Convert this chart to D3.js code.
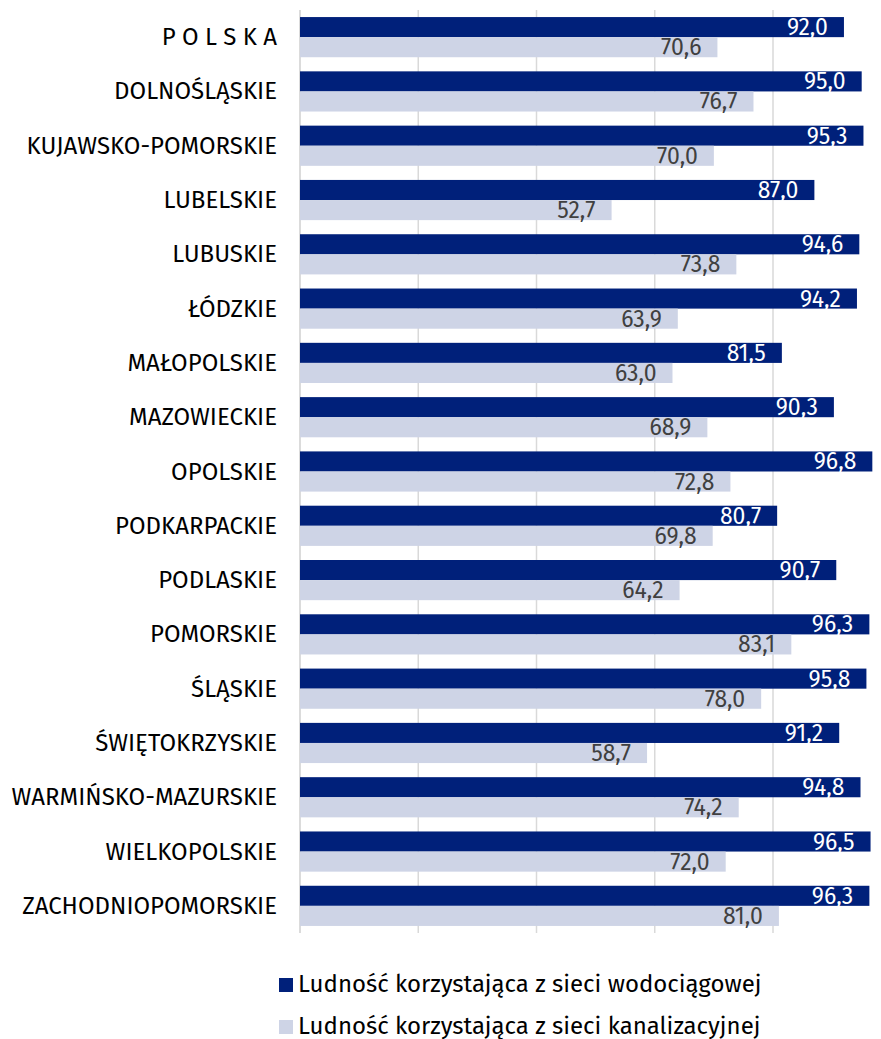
<!DOCTYPE html>
<html>
<head>
<meta charset="utf-8">
<script src="https://cdn.jsdelivr.net/npm/d3@7"></script>
<style>
  body { margin: 0; background: #fff; }
  svg { font-family: "Fira Sans", Roboto, "Open Sans", sans-serif; }
</style>
</head>
<body>
<div id="chart"></div>
<script>
const regions = ['P O L S K A', 'DOLNOŚLĄSKIE', 'KUJAWSKO-POMORSKIE', 'LUBELSKIE', 'LUBUSKIE',
  'ŁÓDZKIE', 'MAŁOPOLSKIE', 'MAZOWIECKIE', 'OPOLSKIE', 'PODKARPACKIE', 'PODLASKIE',
  'POMORSKIE', 'ŚLĄSKIE', 'ŚWIĘTOKRZYSKIE', 'WARMIŃSKO-MAZURSKIE', 'WIELKOPOLSKIE',
  'ZACHODNIOPOMORSKIE'];
const water = [92.0, 95.0, 95.3, 87.0, 94.6, 94.2, 81.5, 90.3, 96.8, 80.7, 90.7, 96.3, 95.8, 91.2, 94.8, 96.5, 96.3];
const sewer = [70.6, 76.7, 70.0, 52.7, 73.8, 63.9, 63.0, 68.9, 72.8, 69.8, 64.2, 83.1, 78.0, 58.7, 74.2, 72.0, 81.0];
const seriesNames = ['Ludność korzystająca z sieci wodociągowej', 'Ludność korzystająca z sieci kanalizacyjnej'];
const xTicks = [0, 20, 40, 60, 80, 100];

const colors = ['#00207a', '#ced4e6'];
const labelColors = ['#ffffff', '#404040'];

const W = 881, H = 1039;
const margin = { top: 10, left: 300, bottom: 106 };

const svg = d3.select('#chart').append('svg')
  .attr('width', W).attr('height', H);

const x = d3.scaleLinear().domain([0, 100]).range([margin.left, 891.25]);
const y = d3.scaleBand().domain(regions).range([margin.top, H - margin.bottom]).paddingInner(0.26).paddingOuter(0.13);
const sub = d3.scaleBand().domain([0, 1]).range([0, y.bandwidth()]);

// gridlines
svg.append('g')
  .selectAll('line')
  .data(xTicks)
  .join('line')
  .attr('x1', d => x(d)).attr('x2', d => x(d))
  .attr('y1', margin.top).attr('y2', H - margin.bottom)
  .attr('stroke', d => d === 0 ? '#cfcfcf' : '#d9d9d9')
  .attr('stroke-width', 1.5);

const rows = regions.map((r, i) => ({ region: r, vals: [water[i], sewer[i]] }));

const g = svg.append('g').selectAll('g')
  .data(rows)
  .join('g')
  .attr('transform', d => `translate(0,${y(d.region)})`);

g.selectAll('rect')
  .data(d => d.vals.map((v, k) => ({ v, k })))
  .join('rect')
  .attr('x', x(0))
  .attr('y', d => sub(d.k))
  .attr('width', d => x(d.v) - x(0))
  .attr('height', sub.bandwidth())
  .attr('fill', d => colors[d.k]);

g.selectAll('text.val')
  .data(d => d.vals.map((v, k) => ({ v, k })))
  .join('text')
  .attr('class', 'val')
  .attr('x', d => x(d.v) - 16)
  .attr('y', d => sub(d.k) + sub.bandwidth() / 2 + 8)
  .attr('text-anchor', 'end')
  .attr('font-size', 23)
  .attr('fill', d => labelColors[d.k])
  .text(d => d3.format('.1f')(d.v).replace('.', ','));

// category labels
svg.append('g')
  .selectAll('text')
  .data(regions)
  .join('text')
  .attr('x', margin.left - 23)
  .attr('y', d => y(d) + y.bandwidth() / 2 + 8)
  .attr('text-anchor', 'end')
  .attr('font-size', 24)
  .attr('fill', '#000')
  .text(d => d);

// legend
const legend = svg.append('g').selectAll('g')
  .data(seriesNames)
  .join('g')
  .attr('transform', (d, i) => `translate(279,${978 + i * 42})`);

legend.append('rect')
  .attr('width', 14).attr('height', 14)
  .attr('fill', (d, i) => colors[i]);

legend.append('text')
  .attr('x', 19)
  .attr('y', 14)
  .attr('font-size', 24)
  .attr('fill', '#000')
  .text(d => d);
</script>
</body>
</html>
